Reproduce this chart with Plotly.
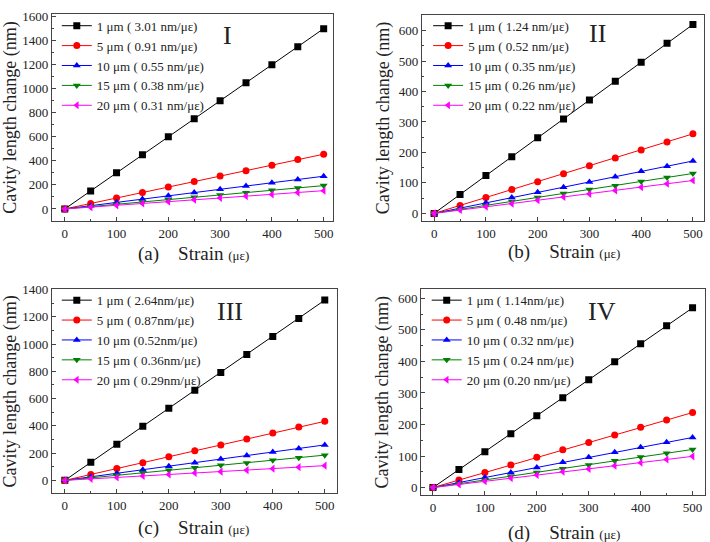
"""Cavity length change vs strain for four sensor configurations (I-IV)"""
import plotly.graph_objects as go

strain = [0, 50, 100, 150, 200, 250, 300, 350, 400, 450, 500]
lengths = ["1 μm", "5 μm", "10 μm", "15 μm", "20 μm"]

# panel I
sens_1 = ["( 3.01 nm/με)", "( 0.91 nm/με)", "( 0.55 nm/με)", "( 0.38 nm/με)", "( 0.31 nm/με)"]
p1_1um = [0, 150, 300, 450, 600, 750, 900, 1048, 1198, 1348, 1498]
p1_5um = [0, 45, 91, 136, 182, 228, 273, 318, 364, 410, 455]
p1_10um = [0, 27, 55, 82, 110, 137, 164, 191, 218, 245, 272]
p1_15um = [0, 19, 38, 58, 77, 97, 116, 135, 155, 174, 194]
p1_20um = [0, 15, 30, 45, 60, 76, 91, 106, 121, 136, 152]

# panel II
sens_2 = ["( 1.24 nm/με)", "( 0.52 nm/με)", "( 0.35 nm/με)", "( 0.26 nm/με)", "( 0.22 nm/με)"]
p2_1um = [0, 62, 124, 186, 248, 310, 372, 434, 496, 558, 620]
p2_5um = [0, 26, 52, 78, 104, 130, 156, 182, 208, 234, 261]
p2_10um = [0, 17, 35, 52, 69, 86, 103, 120, 138, 155, 172]
p2_15um = [0, 13, 26, 39, 52, 65, 78, 91, 105, 118, 131]
p2_20um = [0, 11, 22, 32, 43, 54, 64, 75, 86, 97, 108]

# panel III
sens_3 = ["( 2.64nm/με)", "( 0.87nm/με)", "(0.52nm/με)", "( 0.36nm/με)", "( 0.29nm/με)"]
p3_1um = [0, 132, 264, 396, 528, 660, 792, 924, 1056, 1188, 1322]
p3_5um = [0, 43, 87, 130, 174, 217, 260, 304, 347, 391, 433]
p3_10um = [0, 26, 52, 78, 104, 130, 156, 182, 208, 234, 260]
p3_15um = [0, 18, 37, 55, 74, 92, 110, 128, 147, 166, 185]
p3_20um = [0, 11, 21, 32, 43, 54, 64, 75, 86, 97, 108]

# panel IV
sens_4 = ["( 1.14nm/με)", "( 0.48 nm/με)", "( 0.32 nm/με)", "( 0.24 nm/με)", "(0.20 nm/με)"]
p4_1um = [0, 57, 114, 171, 228, 285, 342, 399, 456, 513, 570]
p4_5um = [0, 24, 48, 72, 96, 120, 143, 167, 191, 214, 238]
p4_10um = [0, 16, 32, 48, 64, 80, 96, 112, 128, 144, 159]
p4_15um = [0, 12, 24, 36, 48, 60, 72, 85, 97, 109, 121]
p4_20um = [0, 10, 20, 30, 40, 50, 59, 69, 79, 89, 99]

panel_tags = ["(a)", "(b)", "(c)", "(d)"]
roman = ["I", "II", "III", "IV"]

colors = ["#000000", "#ff0000", "#0000ff", "#008000", "#ff00ff"]
symbols = ["square", "circle", "triangle-up", "triangle-down", "triangle-left"]

FONT = "Liberation Serif, Times New Roman, serif"

panels = [
    (sens_1, [p1_1um, p1_5um, p1_10um, p1_15um, p1_20um]),
    (sens_2, [p2_1um, p2_5um, p2_10um, p2_15um, p2_20um]),
    (sens_3, [p3_1um, p3_5um, p3_10um, p3_15um, p3_20um]),
    (sens_4, [p4_1um, p4_5um, p4_10um, p4_15um, p4_20um]),
]

# layout per panel: domains, ranges, legend / label positions
x_doms = [[0.073, 0.469], [0.594, 0.992], [0.073, 0.475], [0.593, 0.993]]
y_doms = [[0.600, 0.987], [0.600, 0.985], [0.091, 0.472], [0.087, 0.473]]
y_ranges = [[-100, 1620], [-25, 651], [-95, 1400], [-25, 630]]
y_dticks = [200, 100, 200, 100]
x_ranges = [[-25, 518], [-24, 522], [-25, 524], [-23, 524]]
leg_pos = [(0.080, 0.993), (0.603, 0.993), (0.080, 0.480), (0.601, 0.480)]
tag_pos = [(0.272, 0.539), (0.795, 0.542), (0.272, 0.026), (0.795, 0.017)]
roman_pos = [(0.321, 0.946), (0.842, 0.950), (0.324, 0.431), (0.848, 0.431)]

fig = go.Figure()

for i, (sens, series) in enumerate(panels):
    sfx = "" if i == 0 else str(i + 1)
    for j, ys in enumerate(series):
        fig.add_trace(go.Scatter(
            x=strain, y=ys,
            mode="lines+markers",
            name=f"{lengths[j]} {sens[j]}",
            line=dict(color=colors[j], width=1),
            marker=dict(symbol=symbols[j], size=7, color=colors[j]),
            xaxis="x" + sfx, yaxis="y" + sfx,
            legend="legend" + sfx,
        ))

    axis_common = dict(
        showgrid=False, zeroline=False, showline=True, mirror=True,
        linecolor="#444", linewidth=1, ticks="inside", ticklen=4,
        tickcolor="#444", tickfont=dict(family=FONT, size=13, color="#222"),
    )
    fig.layout["xaxis" + sfx] = dict(
        domain=x_doms[i], range=x_ranges[i], dtick=100, anchor="y" + sfx,
        minor=dict(ticks="inside", ticklen=2, dtick=50, tickcolor="#444"),
        **axis_common)
    fig.layout["yaxis" + sfx] = dict(
        domain=y_doms[i], range=y_ranges[i], dtick=y_dticks[i], anchor="x" + sfx,
        minor=dict(ticks="inside", ticklen=2, dtick=y_dticks[i] / 2, tickcolor="#444"),
        title=dict(text="Cavity length change (nm)",
                   font=dict(family=FONT, size=18, color="#222"), standoff=4),
        **axis_common)
    fig.layout["legend" + sfx] = dict(
        x=leg_pos[i][0], y=leg_pos[i][1], xanchor="left", yanchor="top",
        bgcolor="rgba(0,0,0,0)", font=dict(family=FONT, size=13, color="#222"),
        tracegroupgap=0, itemwidth=30,
    )
    fig.add_annotation(
        x=tag_pos[i][0], y=tag_pos[i][1], xref="paper", yref="paper",
        xanchor="center", yanchor="middle",
        text=f"{panel_tags[i]}&nbsp;&nbsp;&nbsp; Strain <span style='font-size:13px'>(με)</span>",
        showarrow=False, font=dict(family=FONT, size=19, color="#222"),
    )
    fig.add_annotation(
        x=roman_pos[i][0], y=roman_pos[i][1], xref="paper", yref="paper",
        xanchor="center", yanchor="middle",
        text=roman[i], showarrow=False,
        font=dict(family=FONT, size=26, color="#222"),
    )

fig.update_layout(
    width=710, height=542,
    margin=dict(l=0, r=0, t=0, b=0),
    font=dict(family=FONT, size=13, color="#222"),
    paper_bgcolor="white", plot_bgcolor="white",
    showlegend=True,
)

fig.write_html("out.html", config={"displayModeBar": False},
               post_script="document.body.style.margin='0';")
